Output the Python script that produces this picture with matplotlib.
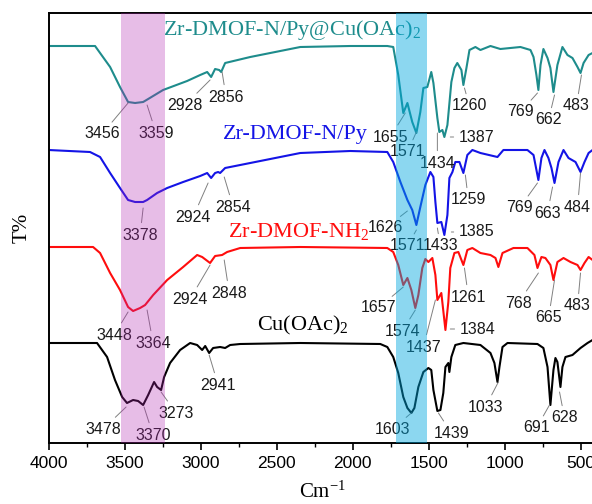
import matplotlib
matplotlib.use("Agg")
import matplotlib.pyplot as plt
from matplotlib.ticker import MultipleLocator

plt.rcParams['mathtext.fontset'] = 'custom'
plt.rcParams['mathtext.rm'] = 'Liberation Serif'
plt.rcParams['mathtext.it'] = 'Liberation Serif:italic'

# Spectra (wavenumber, stacked transmittance in arbitrary units)
teal_wn = [4000, 3694, 3595, 3530, 3477, 3431, 3378, 3345, 3247, 3089,
           3003, 2957, 2931, 2905, 2878, 2865, 2839, 2674, 2345, 2016,
           1773, 1734, 1701, 1668, 1641, 1609, 1582, 1556, 1536, 1510,
           1484, 1470, 1444, 1431, 1411, 1398, 1378, 1352, 1332, 1313,
           1286, 1273, 1253, 1233, 1194, 1161, 1095, 1030, 898, 832,
           812, 793, 780, 766, 747, 720, 701, 681, 655, 622,
           589, 556, 523, 503, 483, 450, 424]
teal_T = [397, 397, 376, 356, 341, 340, 341, 344, 353, 362,
          368, 371, 366, 374, 373, 371, 380, 386, 396, 397,
          397, 396, 368, 330, 340, 321, 310, 331, 355, 356,
          371, 360, 325, 311, 313, 306, 318, 361, 375, 380,
          373, 358, 375, 393, 396, 393, 397, 394, 396, 393,
          386, 368, 353, 378, 394, 385, 375, 351, 378, 396,
          388, 385, 376, 370, 380, 388, 390]

blue_wn = [4000, 3727, 3661, 3595, 3530, 3477, 3431, 3378, 3352, 3286,
           3220, 3115, 3003, 2957, 2931, 2905, 2885, 2872, 2839, 2674,
           2345, 2016, 1773, 1734, 1687, 1641, 1609, 1582, 1556, 1523,
           1490, 1470, 1457, 1444, 1418, 1398, 1378, 1365, 1345, 1326,
           1299, 1273, 1247, 1214, 1161, 1049, 1010, 852, 812, 780,
           760, 740, 714, 694, 674, 648, 615, 582, 536, 503,
           477, 450, 424]
blue_T = [293, 291, 286, 270, 255, 243, 241, 241, 243, 250,
          255, 261, 267, 270, 265, 270, 271, 270, 275, 280,
          290, 292, 291, 281, 261, 243, 233, 218, 236, 258,
          271, 266, 241, 220, 221, 208, 228, 265, 271, 281,
          281, 270, 288, 293, 290, 286, 293, 293, 288, 263,
          285, 293, 285, 275, 260, 281, 293, 285, 281, 271,
          281, 290, 293]

red_wn = [4000, 3707, 3661, 3595, 3530, 3477, 3444, 3398, 3365, 3312,
          3220, 3115, 3023, 2990, 2938, 2905, 2859, 2826, 2740, 2345,
          1773, 1734, 1701, 1668, 1641, 1615, 1589, 1569, 1543, 1523,
          1503, 1477, 1457, 1444, 1418, 1391, 1372, 1359, 1332, 1306,
          1273, 1247, 1214, 1161, 1095, 1062, 1043, 1016, 944, 852,
          806, 786, 760, 734, 701, 681, 655, 615, 569, 523,
          503, 477, 450, 424]
red_T = [196, 196, 190, 170, 153, 136, 132, 135, 138, 148,
         163, 176, 188, 186, 180, 187, 188, 191, 195, 196,
         195, 191, 178, 158, 165, 153, 135, 148, 175, 184,
         181, 185, 168, 143, 150, 113, 141, 175, 190, 191,
         178, 193, 195, 190, 188, 185, 176, 190, 195, 195,
         188, 175, 186, 185, 178, 163, 181, 185, 181, 178,
         173, 180, 186, 183]

black_wn = [4000, 3681, 3615, 3563, 3516, 3484, 3444, 3411, 3378, 3345,
            3306, 3286, 3260, 3240, 3201, 3135, 3069, 3023, 2990, 2970,
            2944, 2918, 2872, 2839, 2806, 2740, 2345, 1819, 1773, 1734,
            1701, 1668, 1641, 1615, 1595, 1569, 1536, 1503, 1484, 1470,
            1444, 1424, 1405, 1391, 1372, 1365, 1352, 1326, 1273, 1161,
            1095, 1069, 1049, 1036, 1016, 983, 786, 747, 720, 701,
            681, 668, 655, 635, 622, 602, 556, 503, 457, 424]
black_T = [100, 100, 86, 63, 46, 40, 43, 42, 38, 48,
           61, 56, 53, 66, 80, 93, 100, 98, 93, 97,
           90, 95, 96, 95, 98, 99, 100, 99, 96, 86,
           70, 46, 35, 30, 35, 56, 71, 75, 73, 53,
           32, 33, 50, 76, 80, 71, 86, 98, 100, 98,
           90, 80, 61, 76, 96, 100, 99, 95, 76, 38,
           73, 85, 81, 56, 76, 86, 88, 95, 100, 103]

# Peak labels and the point each leader starts from
teal_peaks = ['3456', '3359', '2928', '2856', '1655', '1571', '1434', '1387', '1260', '769', '662', '483']
teal_anchor_wn = [3477, 3352, 2938, 2859, 1655, 1582, 1444, 1359, 1266, 786, 674, 497]
teal_anchor_T = [340, 338, 363, 371, 330, 311, 310, 306, 355, 350, 348, 368]

blue_peaks = ['3378', '2924', '2854', '1626', '1571', '1433', '1385', '1259', '769', '663', '484']
blue_anchor_wn = [3378, 2951, 2845, 1641, 1582, 1444, 1352, 1260, 786, 687, 503]
blue_anchor_T = [235, 260, 266, 232, 213, 215, 211, 268, 260, 256, 270]

red_peaks = ['3448', '3364', '2924', '2848', '1657', '1574', '1437', '1384', '1261', '768', '665', '483']
red_anchor_wn = [3477, 3352, 2938, 2845, 1668, 1589, 1457, 1359, 1266, 780, 674, 503]
red_anchor_T = [131, 133, 178, 183, 156, 133, 143, 114, 175, 170, 163, 170]

black_peaks = ['3478', '3370', '3273', '2941', '1603', '1439', '1033', '691', '628']
black_anchor_wn = [3490, 3372, 3260, 2944, 1615, 1437, 1043, 707, 641]
black_anchor_T = [36, 36, 51, 88, 30, 30, 61, 38, 51]

# text offsets from the anchors, in pixels
teal_offsets = [(-26, -31), (9, -28), (-25, -25), (4, -25), (-15, -24), (-9, -20),
                (0, -30), (26, 0), (5, -18), (-17, -19), (-6, -25), (-5, -31)]
blue_offsets = [(-3, -27), (-15, -34), (9, -30), (-22, -17), (-9, -16), (3, -18),
                (25, 0), (3, -25), (-18, -25), (-5, -26), (-3, -34)]
red_offsets = [(-14, -23), (6, -33), (-20, -34), (5, -33), (-25, -21), (-13, -21),
               (-12, -47), (27, 0), (4, -29), (-20, -30), (-6, -38), (-3, -33)]
black_offsets = [(-23, -22), (9, -28), (15, -21), (9, -30), (-19, -16), (13, -20),
                 (-13, -25), (-13, -23), (5, -26)]

fig = plt.figure(figsize=(5.92, 5.04), dpi=100)
ax = fig.add_axes([48.5 / 592, 61 / 504, 547.7 / 592, 430 / 504])

ax.plot(teal_wn, teal_T, color='#1e8c8c', lw=1.5)
ax.plot(blue_wn, blue_T, color='#1414e6', lw=1.5)
ax.plot(red_wn, red_T, color='#ff0d0d', lw=1.5)
ax.plot(black_wn, black_T, color='black', lw=1.5)

series = [
    (teal_peaks, teal_anchor_wn, teal_anchor_T, teal_offsets),
    (blue_peaks, blue_anchor_wn, blue_anchor_T, blue_offsets),
    (red_peaks, red_anchor_wn, red_anchor_T, red_offsets),
    (black_peaks, black_anchor_wn, black_anchor_T, black_offsets),
]
for peaks, wn, tv, offs in series:
    for lab, x, y, (dx, dy) in zip(peaks, wn, tv, offs):
        ax.annotate(lab, xy=(x, y), xytext=(dx, dy), textcoords='offset pixels',
                    ha='center', va='center', fontsize=11.5, family='Liberation Sans',
                    color='#1a1a1a',
                    arrowprops=dict(arrowstyle='-', color='#808080', lw=0.7,
                                    shrinkA=1.5, shrinkB=0))

# band highlights drawn over everything
ax.axvspan(3526, 3237, color='#b226b2', alpha=0.3, lw=0, zorder=10)
ax.axvspan(1717, 1513, color='#00a7de', alpha=0.45, lw=0, zorder=10)

serif = 'Liberation Serif'
ax.text(3246, 413, 'Zr-DMOF-N/Py@Cu(OAc)$_2$', color='#1e8c8c', fontsize=16,
        family=serif, ha='left', va='center')
ax.text(2852, 308, 'Zr-DMOF-N/Py', color='#1414e6', fontsize=16,
        family=serif, ha='left', va='center')
ax.text(2819, 211, 'Zr-DMOF-NH$_2$', color='#ff0d0d', fontsize=16,
        family=serif, ha='left', va='center')
ax.text(2628, 118, 'Cu(OAc)$_2$', color='black', fontsize=16,
        family=serif, ha='left', va='center')

ax.set_xlim(4000, 400)
ax.set_ylim(0, 430)
ax.xaxis.set_major_locator(MultipleLocator(500))
ax.xaxis.set_minor_locator(MultipleLocator(250))
ax.tick_params(axis='x', which='major', direction='out', length=5, width=1.2,
               labelsize=12.5, pad=4)
ax.tick_params(axis='x', which='minor', direction='out', length=3, width=1.0)
ax.set_yticks([])
for lab in ax.get_xticklabels():
    lab.set_family('Liberation Sans')
for s in ax.spines.values():
    s.set_linewidth(1.4)

ax.set_xlabel('Cm$^{-1}$', fontsize=15, family=serif, labelpad=8)
ax.set_ylabel('T%', fontsize=15, family=serif, labelpad=12)

fig.savefig('out.png', dpi=100)
